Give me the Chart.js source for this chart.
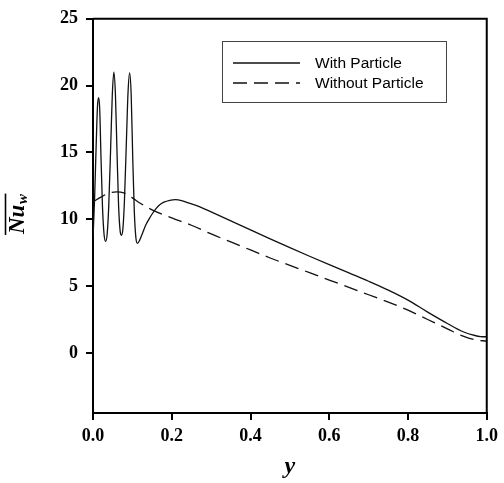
<!DOCTYPE html>
<html>
<head>
<meta charset="utf-8">
<script src="https://cdn.jsdelivr.net/npm/chart.js@4.4.1/dist/chart.umd.min.js"></script>
<style>
  html, body { margin: 0; padding: 0; background: #fff; }
  #wrap { width: 504px; height: 483px; position: relative; }
</style>
</head>
<body>
<div id="wrap"><canvas id="c" width="504" height="483"></canvas></div>
<script>
// ---- data ----
const seriesLabels = ["With Particle", "Without Particle"];

const withX = [0.000, 0.004, 0.008, 0.0115, 0.0143, 0.017, 0.020, 0.024, 0.028, 0.032, 0.036, 0.040, 0.045, 0.049, 0.053, 0.057, 0.061, 0.065, 0.069, 0.072, 0.076, 0.080, 0.085, 0.089, 0.093, 0.097, 0.101, 0.105, 0.109, 0.113, 0.118, 0.125, 0.134, 0.143, 0.151, 0.160, 0.168, 0.180, 0.195, 0.210, 0.225, 0.240, 0.270, 0.300, 0.350, 0.400, 0.450, 0.500, 0.550, 0.600, 0.650, 0.700, 0.750, 0.800, 0.850, 0.900, 0.940, 0.970, 0.985, 1.000];
const withY = [8.6, 11.5, 15.5, 18.5, 19.1, 18.3, 15.0, 11.0, 8.9, 8.35, 8.9, 11.0, 15.5, 19.3, 21.0, 19.3, 15.0, 11.0, 9.1, 8.8, 9.3, 11.5, 16.0, 19.5, 20.95, 19.3, 14.5, 10.5, 8.6, 8.2, 8.4, 8.9, 9.57, 10.05, 10.43, 10.8, 11.05, 11.28, 11.42, 11.47, 11.4, 11.25, 10.95, 10.55, 9.88, 9.2, 8.53, 7.87, 7.23, 6.6, 5.98, 5.36, 4.7, 3.95, 3.05, 2.2, 1.58, 1.3, 1.22, 1.2];

const withoutX = [0.00, 0.02, 0.04, 0.06, 0.08, 0.10, 0.12, 0.15, 0.20, 0.25, 0.30, 0.35, 0.40, 0.45, 0.50, 0.55, 0.60, 0.65, 0.70, 0.75, 0.80, 0.85, 0.90, 0.94, 0.97, 1.00];
const withoutY = [11.3, 11.65, 11.95, 12.05, 11.95, 11.6, 11.2, 10.7, 10.1, 9.55, 8.9, 8.3, 7.7, 7.1, 6.55, 6.0, 5.45, 4.9, 4.35, 3.8, 3.2, 2.5, 1.8, 1.25, 0.98, 0.88];

const xTicks = [0.0, 0.2, 0.4, 0.6, 0.8, 1.0];
const yTicks = [0, 5, 10, 15, 20, 25];
const xRange = [0, 1];
const yRange = [-4.5, 25];

// ---- chart ----
const SERIF = "'Liberation Serif', 'Times New Roman', serif";
const SANS = "'Liberation Sans', Arial, sans-serif";
const ink = '#111';

function pts(xs, ys) { return xs.map((x, i) => ({ x: x, y: ys[i] })); }

const framePlugin = {
  id: 'frame',
  afterDatasetsDraw(chart) {
    const { ctx, chartArea: a } = chart;
    ctx.save();
    ctx.strokeStyle = '#000';
    ctx.lineWidth = 2;
    ctx.beginPath();
    ctx.moveTo(a.left, a.top);
    ctx.lineTo(a.right, a.top);
    ctx.lineTo(a.right, a.bottom);
    ctx.stroke();
    ctx.restore();
  },
  afterDraw(chart) {
    const { ctx } = chart;
    // legend box inside plot
    ctx.save();
    const bx = 222.5, by = 41.5, bw = 224, bh = 61;
    ctx.strokeStyle = '#444';
    ctx.lineWidth = 1;
    ctx.strokeRect(bx, by, bw, bh);
    ctx.font = '15.5px ' + SANS;
    ctx.fillStyle = '#000';
    ctx.textBaseline = 'middle';
    chart.data.datasets.forEach((ds, i) => {
      const yy = 63 + i * 20;
      ctx.strokeStyle = ds.borderColor;
      ctx.lineWidth = ds.borderWidth;
      ctx.setLineDash(ds.borderDash || []);
      ctx.beginPath();
      ctx.moveTo(233, yy);
      ctx.lineTo(300, yy);
      ctx.stroke();
      ctx.setLineDash([]);
      ctx.fillText(ds.label, 315, yy + 1);
    });
    // y axis title: overline Nu subscript w
    ctx.translate(24, 234);
    ctx.rotate(-Math.PI / 2);
    ctx.fillStyle = '#000';
    ctx.textBaseline = 'alphabetic';
    ctx.textAlign = 'left';
    ctx.font = 'bold italic 23px ' + SERIF;
    const nuW = ctx.measureText('Nu').width;
    ctx.fillText('Nu', 0, 0);
    ctx.font = 'bold italic 15px ' + SERIF;
    ctx.fillText('w', nuW + 0.5, 3);
    const wW = ctx.measureText('w').width;
    ctx.strokeStyle = '#000';
    ctx.lineWidth = 1.6;
    ctx.beginPath();
    ctx.moveTo(-1, -18.5);
    ctx.lineTo(nuW + wW + 1, -18.5);
    ctx.stroke();
    ctx.restore();
  }
};

new Chart(document.getElementById('c'), {
  type: 'line',
  data: {
    datasets: [
      {
        label: seriesLabels[0],
        data: pts(withX, withY),
        borderColor: ink,
        borderWidth: 1.3,
        pointRadius: 0,
        fill: false,
        cubicInterpolationMode: 'monotone'
      },
      {
        label: seriesLabels[1],
        data: pts(withoutX, withoutY),
        borderColor: ink,
        borderWidth: 1.3,
        borderDash: [14, 7],
        pointRadius: 0,
        fill: false,
        cubicInterpolationMode: 'monotone'
      }
    ]
  },
  options: {
    responsive: false,
    animation: false,
    devicePixelRatio: 1,
    layout: { padding: { top: 15, right: 13, left: 0, bottom: 0 } },
    plugins: { legend: { display: false }, tooltip: { enabled: false } },
    scales: {
      x: {
        type: 'linear',
        min: xRange[0], max: xRange[1],
        afterBuildTicks(scale) { scale.ticks = xTicks.map(v => ({ value: v })); },
        afterFit(scale) { scale.height = 70; },
        ticks: {
          color: '#000',
          font: { family: SERIF, size: 18, weight: 'bold' },
          padding: 6,
          maxRotation: 0,
          callback: v => Number(v).toFixed(1)
        },
        grid: { drawOnChartArea: false, drawTicks: true, tickLength: 7, color: '#000', lineWidth: 2 },
        border: { display: true, color: '#000', width: 2 },
        title: {
          display: true,
          text: 'y',
          color: '#000',
          font: { family: SERIF, size: 24, weight: 'bold', style: 'italic' },
          padding: { top: 0, bottom: 2 }
        }
      },
      y: {
        type: 'linear',
        min: yRange[0], max: yRange[1],
        afterBuildTicks(scale) { scale.ticks = yTicks.map(v => ({ value: v })); },
        afterFit(scale) { scale.width = 93; },
        ticks: {
          color: '#000',
          font: { family: SERIF, size: 18, weight: 'bold' },
          padding: 8
        },
        grid: { drawOnChartArea: false, drawTicks: true, tickLength: 7, color: '#000', lineWidth: 2 },
        border: { display: true, color: '#000', width: 2 }
      }
    }
  },
  plugins: [framePlugin]
});
</script>
</body>
</html>
